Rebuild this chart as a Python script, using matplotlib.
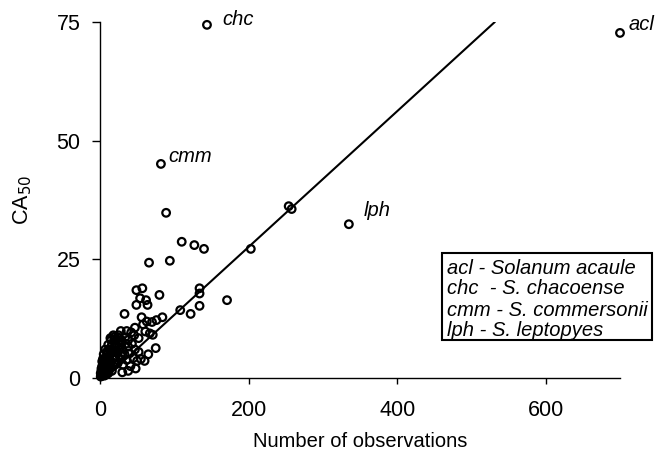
import matplotlib
matplotlib.use("Agg")
import matplotlib.pyplot as plt
from matplotlib.patches import Rectangle
import numpy as np

plt.rcParams['font.family'] = ['Liberation Sans', 'DejaVu Sans']

# Scatter data: number of observations vs CA50
obs_x = [
    # upper / scattered points
    89, 254, 258, 110, 127, 140, 203, 66, 94, 57, 49, 54, 62, 80, 49, 64,
    134, 134, 134, 171, 108, 122, 33, 84, 56, 70, 58, 47, 28, 36, 67, 71, 75,
    63, 76, 14, 20, 29, 38, 52, 61,
    # mid cluster
    22, 24, 26, 28, 30, 31, 33, 34, 36, 38, 40, 41, 43, 45, 47, 50, 52, 55,
    46, 42, 35, 25, 18, 15, 48, 38, 60, 65, 30,
    # dense cluster near origin
    2, 3, 4, 5, 5, 6, 7, 8, 8, 9, 10, 10, 11, 12, 12, 13, 14, 14, 15, 16, 16,
    17, 18, 18, 19, 20, 3, 4, 5, 6, 7, 9, 11, 6, 2, 3, 4, 7, 9, 1, 1, 2, 3, 5,
    6, 8, 10, 11, 13, 15, 17, 19, 21, 22, 23, 24, 25, 26, 28, 29,
]
obs_y = [
    34.8, 36.2, 35.6, 28.7, 28.0, 27.2, 27.2, 24.3, 24.7, 18.9, 18.5, 16.8,
    16.4, 17.5, 15.4, 15.4, 18.9, 17.8, 15.2, 16.4, 14.3, 13.5, 13.5, 12.8,
    12.8, 11.8, 11.3, 10.6, 9.9, 9.9, 9.4, 9.1, 6.3,
    11.9, 12.2, 8.4, 8.7, 8.0, 8.0, 8.4, 9.8,
    5.5, 3.2, 7.0, 4.8, 6.2, 2.8, 5.0, 8.6, 3.8, 6.6, 5.2, 2.5, 7.2, 4.2, 6.0,
    3.6, 5.5, 4.0, 9.0, 9.6, 7.2, 9.0, 9.0, 8.0, 2.0, 1.5, 3.6, 5.0, 1.2,
    0.5, 1.0, 1.5, 2.0, 3.0, 1.0, 2.5, 4.0, 1.0, 3.0, 2.0, 5.0, 3.5, 1.5, 4.5,
    6.0, 2.5, 5.0, 3.5, 1.5, 7.0, 4.0, 2.5, 5.5, 3.0, 6.5, 2.5, 4.0, 5.0, 4.0,
    6.0, 5.5, 7.0, 0.5, 1.5, 3.5, 0.8, 1.2, 0.8, 0.3, 1.0, 2.0, 0.5, 0.8, 2.0,
    2.8, 3.5, 1.0, 3.0, 5.5, 6.0, 8.0, 4.5, 7.0, 3.0, 5.5, 8.5, 6.0, 4.0, 7.5,
]

# Labelled species points
lab_names = ["acl", "chc", "cmm", "lph"]
lab_x = [700, 144, 82, 335]
lab_y = [72.7, 74.4, 45.1, 32.4]
lab_offsets = [(6, 6), (11, 4), (5, 5), (11, 10)]

legend_lines = [
    "acl - Solanum acaule",
    "chc  - S. chacoense",
    "cmm - S. commersonii",
    "lph - S. leptopyes",
]

# Regression line parameters
slope = 0.143
intercept = -1.0
line_x = [7, 531]

x_ticks = [0, 200, 400, 600]
y_ticks = [0, 25, 50, 75]

fig = plt.figure(figsize=(6.55, 4.59), dpi=100)
ax = fig.add_axes([100/655, 1-378/459, 520/655, 356/459])

ax.scatter(obs_x, obs_y, s=30, facecolors='none', edgecolors='black',
           linewidths=1.6, clip_on=False, zorder=3)
ax.scatter(lab_x, lab_y, s=30, facecolors='none', edgecolors='black',
           linewidths=1.6, clip_on=False, zorder=3)

lx = np.array(line_x)
ax.plot(lx, slope*lx + intercept, color='black', lw=1.5, zorder=2)

for n, x, y, off in zip(lab_names, lab_x, lab_y, lab_offsets):
    ax.annotate(n, (x, y), xytext=off, textcoords='offset points',
                ha='left', va='center', fontsize=14.5, style='italic',
                annotation_clip=False)

ax.set_xlim(0, 700)
ax.set_ylim(0, 75)
ax.set_xticks(x_ticks)
ax.set_yticks(y_ticks)
ax.spines['top'].set_visible(False)
ax.spines['right'].set_visible(False)
ax.spines['left'].set_linewidth(1.0)
ax.spines['bottom'].set_linewidth(1.0)
ax.tick_params(axis='y', direction='out', length=6, width=1, labelsize=15.5, pad=8)
ax.tick_params(axis='x', direction='out', length=4, width=1, labelsize=15.5, pad=12)
ax.set_xlabel("Number of observations", fontsize=14.5, labelpad=8)
ax.set_ylabel("CA$_{50}$", fontsize=15.5, labelpad=16)

# Legend box
box = Rectangle((442/655, 1-340/459), 210/655, 87/459, transform=fig.transFigure,
                fill=False, edgecolor='black', lw=1.5)
fig.patches.append(box)
for i, t in enumerate(legend_lines):
    fig.text(447/655, 1-(268+21*i)/459, t, fontsize=14.5, style='italic',
             ha='left', va='center')

fig.savefig("out.png", dpi=100)
